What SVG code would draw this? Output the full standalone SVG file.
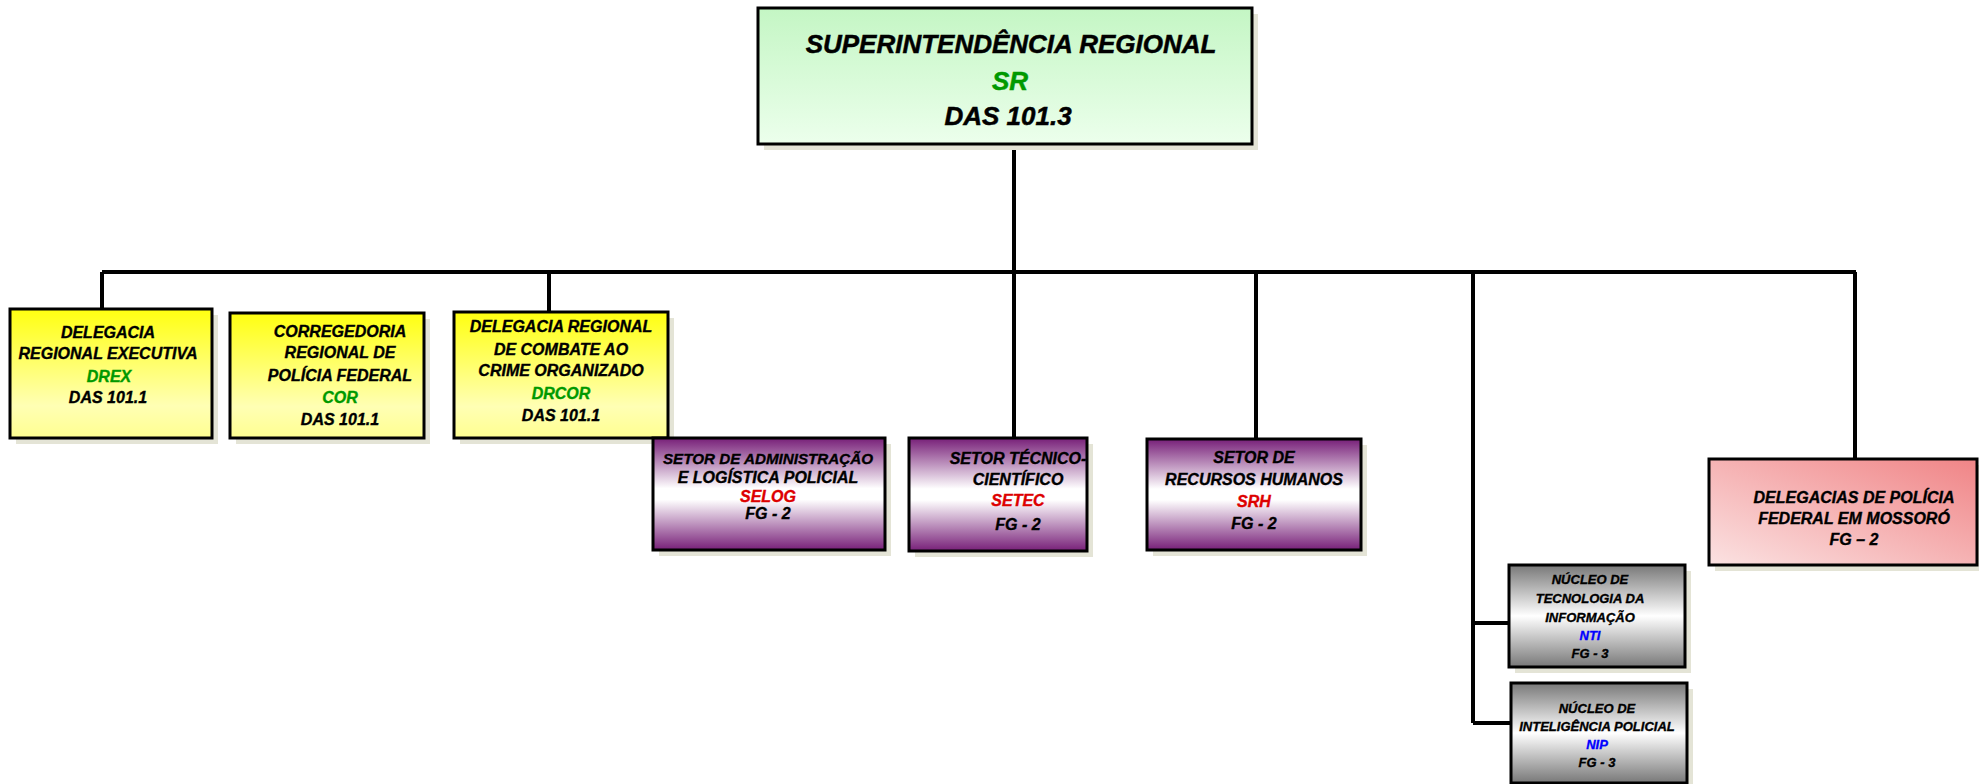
<svg xmlns="http://www.w3.org/2000/svg" width="1979" height="784" viewBox="0 0 1979 784">
<defs>
<linearGradient id="gGreen" x1="0" y1="0" x2="0" y2="1"><stop offset="0" stop-color="#c4f6c4"/><stop offset="1" stop-color="#ecffec"/></linearGradient>
<linearGradient id="gYellow" x1="0" y1="0" x2="0" y2="1"><stop offset="0" stop-color="#ffff10"/><stop offset="0.75" stop-color="#ffffb4"/><stop offset="1" stop-color="#ffff90"/></linearGradient>
<linearGradient id="gPurple" x1="0" y1="0" x2="0" y2="1"><stop offset="0" stop-color="#771f78"/><stop offset="0.45" stop-color="#ffffff"/><stop offset="0.55" stop-color="#ffffff"/><stop offset="1" stop-color="#771f78"/></linearGradient>
<linearGradient id="gGray" x1="0" y1="0" x2="0" y2="1"><stop offset="0" stop-color="#787878"/><stop offset="0.5" stop-color="#ffffff"/><stop offset="1" stop-color="#787878"/></linearGradient>
<linearGradient id="gPink" x1="1" y1="0" x2="0" y2="1"><stop offset="0" stop-color="#f08486"/><stop offset="1" stop-color="#fbe2e2"/></linearGradient>
</defs>
<style>
.sh{fill:#e4e4d6}
.bx{stroke:#000;stroke-width:3}
text{font-family:"Liberation Sans",Arial,sans-serif;font-weight:bold;font-style:italic;text-anchor:middle;fill:#000;stroke:#000;stroke-width:0.35px}
.t16{font-size:16px}
.t13{font-size:13px}
.t26{font-size:26px;stroke-width:0.5px}
.g{fill:#009900;stroke:#009900}
.r{fill:#dd0000;stroke:#dd0000}
.b{fill:#0000ff;stroke:#0000ff}
.ln{stroke:#000;stroke-width:4;fill:none}
</style>
<g id="connectors">
<path class="ln" d="M1014 144V272M102 272H1856M102 272V309M549 272V312M1014 272V438M1256 272V439M1855 272V459M1473 272V723M1473 623H1509M1473 723H1511"/>
</g>
<g id="sr">
<rect class="sh" x="764" y="14" width="494" height="136"/>
<rect class="bx" x="758" y="8" width="494" height="136" fill="url(#gGreen)"/>
<text class="t26" x="1011" y="53">SUPERINTENDÊNCIA REGIONAL</text>
<text class="t26 g" x="1010" y="90">SR</text>
<text class="t26" x="1008" y="125">DAS 101.3</text>
</g>
<g id="drex">
<rect class="sh" x="16" y="315" width="202" height="129"/>
<rect class="bx" x="10" y="309" width="202" height="129" fill="url(#gYellow)"/>
<text class="t16" x="108" y="338">DELEGACIA</text>
<text class="t16" x="108" y="359">REGIONAL EXECUTIVA</text>
<text class="t16 g" x="109" y="382">DREX</text>
<text class="t16" x="108" y="403">DAS 101.1</text>
</g>
<g id="cor">
<rect class="sh" x="236" y="319" width="194" height="125"/>
<rect class="bx" x="230" y="313" width="194" height="125" fill="url(#gYellow)"/>
<text class="t16" x="340" y="337">CORREGEDORIA</text>
<text class="t16" x="340" y="358">REGIONAL DE</text>
<text class="t16" x="340" y="381">POLÍCIA FEDERAL</text>
<text class="t16 g" x="340" y="403">COR</text>
<text class="t16" x="340" y="425">DAS 101.1</text>
</g>
<g id="drcor">
<rect class="sh" x="460" y="318" width="214" height="126"/>
<rect class="bx" x="454" y="312" width="214" height="126" fill="url(#gYellow)"/>
<text class="t16" x="561" y="332">DELEGACIA REGIONAL</text>
<text class="t16" x="561" y="355">DE COMBATE AO</text>
<text class="t16" x="561" y="376">CRIME ORGANIZADO</text>
<text class="t16 g" x="561" y="399">DRCOR</text>
<text class="t16" x="561" y="421">DAS 101.1</text>
</g>
<g id="selog">
<rect class="sh" x="659" y="444" width="232" height="112"/>
<rect class="bx" x="653" y="438" width="232" height="112" fill="url(#gPurple)"/>
<text class="t16" x="768" y="464" style="font-size:15.2px">SETOR DE ADMINISTRAÇÃO</text>
<text class="t16" x="768" y="483">E LOGÍSTICA POLICIAL</text>
<text class="t16 r" x="768" y="502">SELOG</text>
<text class="t16" x="768" y="519">FG - 2</text>
</g>
<g id="setec">
<rect class="sh" x="915" y="444" width="178" height="113"/>
<rect class="bx" x="909" y="438" width="178" height="113" fill="url(#gPurple)"/>
<text class="t16" x="1018" y="464">SETOR TÉCNICO-</text>
<text class="t16" x="1018" y="485">CIENTÍFICO</text>
<text class="t16 r" x="1018" y="506">SETEC</text>
<text class="t16" x="1018" y="530">FG - 2</text>
</g>
<g id="srh">
<rect class="sh" x="1153" y="445" width="214" height="111"/>
<rect class="bx" x="1147" y="439" width="214" height="111" fill="url(#gPurple)"/>
<text class="t16" x="1254" y="463">SETOR DE</text>
<text class="t16" x="1254" y="485">RECURSOS HUMANOS</text>
<text class="t16 r" x="1254" y="507">SRH</text>
<text class="t16" x="1254" y="529">FG - 2</text>
</g>
<g id="mossoro">
<rect class="sh" x="1715" y="465" width="268" height="106"/>
<rect class="bx" x="1709" y="459" width="268" height="106" fill="url(#gPink)"/>
<text class="t16" x="1854" y="503">DELEGACIAS DE POLÍCIA</text>
<text class="t16" x="1854" y="524">FEDERAL EM MOSSORÓ</text>
<text class="t16" x="1854" y="545">FG – 2</text>
</g>
<g id="nti">
<rect class="sh" x="1515" y="571" width="176" height="102"/>
<rect class="bx" x="1509" y="565" width="176" height="102" fill="url(#gGray)"/>
<text class="t13" x="1590" y="584">NÚCLEO DE</text>
<text class="t13" x="1590" y="603">TECNOLOGIA DA</text>
<text class="t13" x="1590" y="622">INFORMAÇÃO</text>
<text class="t13 b" x="1590" y="640">NTI</text>
<text class="t13" x="1590" y="658">FG - 3</text>
</g>
<g id="nip">
<rect class="sh" x="1517" y="689" width="176" height="100"/>
<rect class="bx" x="1511" y="683" width="176" height="100" fill="url(#gGray)"/>
<text class="t13" x="1597" y="713">NÚCLEO DE</text>
<text class="t13" x="1597" y="731">INTELIGÊNCIA POLICIAL</text>
<text class="t13 b" x="1597" y="749">NIP</text>
<text class="t13" x="1597" y="767">FG - 3</text>
</g>
</svg>
